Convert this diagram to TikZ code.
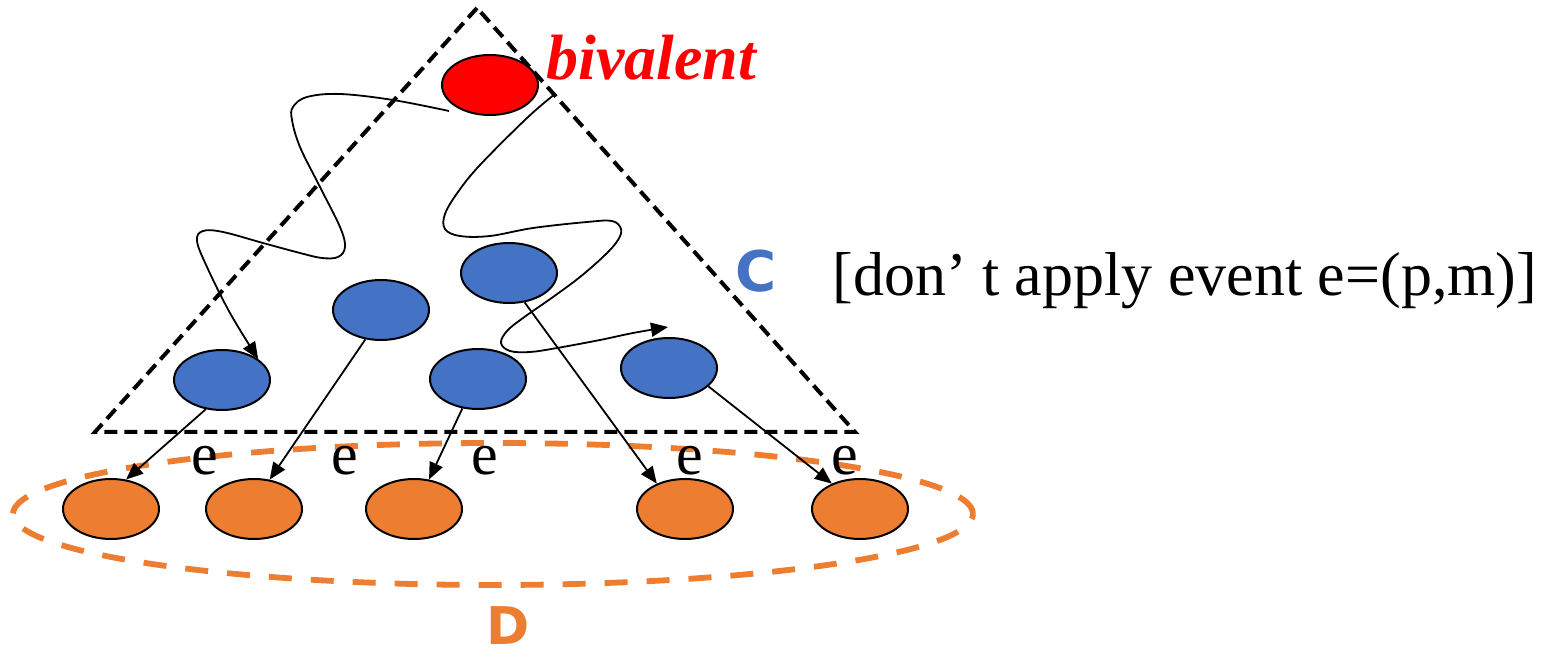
\documentclass[tikz,border=0pt]{standalone}
\usepackage{fontspec}
\setmainfont{Liberation Serif}
\newfontfamily\labelsans{DejaVu Sans}
\usetikzlibrary{shapes.geometric,arrows.meta}
\definecolor{stateblue}{HTML}{4472C4}
\definecolor{stateorange}{HTML}{ED7D31}
\definecolor{statered}{HTML}{FF0000}

\begin{document}
\begin{tikzpicture}[x=0.5pt,y=-0.5pt,
  state/.style={ellipse, draw=black, line width=1pt, minimum width=48pt,
    minimum height=30pt, inner sep=0pt},
  bivstate/.style={state, fill=statered},
  midstate/.style={state, fill=stateblue},
  endstate/.style={state, fill=stateorange},
  edge/.style={line width=0.9pt, -{Triangle[length=8.5pt,width=7pt]}},
  wiggle/.style={line width=0.9pt, -{Triangle[length=8.5pt,width=7pt]}},
  regionC/.style={line width=2pt, dash pattern=on 6.5pt off 3.5pt},
  regionD/.style={draw=stateorange, line width=2.9pt, dash pattern=on 11.5pt off 9.5pt},
  elabel/.style={inner sep=0pt, font=\fontsize{30pt}{35pt}\selectfont},
  setname/.style={inner sep=0pt, font=\labelsans\bfseries\fontsize{28pt}{32pt}\selectfont}
]
\useasboundingbox (0,0) rectangle (1564,657);

% region C: the dashed triangle
\draw[regionC] (477,8) -- (95,432) -- (855,432) -- cycle;

% region D: the dashed orange ellipse
\draw[regionD] (493,514) ellipse [x radius=240pt, y radius=35.5pt];

% states
\node[bivstate] (bv) at (490,85) {};
\node[midstate] (b1) at (222,380) {};
\node[midstate] (b2) at (381,310) {};
\node[midstate] (b3) at (509,273) {};
\node[midstate] (b4) at (478,379) {};
\node[midstate] (b5) at (669,368) {};
\node[endstate] (o1) at (111,509) {};
\node[endstate] (o2) at (254,509) {};
\node[endstate] (o3) at (414,509) {};
\node[endstate] (o4) at (685,509) {};
\node[endstate] (o5) at (860,509) {};

% free ends of the wandering runs
\coordinate (w1) at (449,111);
\coordinate (w2) at (555,94);
\coordinate (w2end) at (668,327);

% wandering run from the bivalent state down to the left
\draw[wiggle] plot[smooth, tension=0.6] coordinates {
  (w1) (393,100) (340,94) (307,97) (293,107) (292,120) (300,147)
  (320,187) (340,227) (345,247) (338,257) (322,258) (300,253)
  (263,243) (223,232) (203,231) (197,241) (207,267) (230,313) (b1.30)};

% wandering run from the bivalent state down to the right
\draw[wiggle] plot[smooth, tension=0.6] coordinates {
  (w2) (527,118) (480,165) (458,192) (445,214) (445,229) (460,236)
  (490,236) (533,228) (587,222) (612,221) (621,229) (618,240)
  (605,255) (580,277) (553,297) (523,318) (507,331) (501,343)
  (510,351) (530,352) (557,348) (600,340) (633,333) (w2end)};

% events e leading out of C
\draw[edge] (b1.241) -- (o1.63);
\draw[edge] (b2.242) -- (o2.62);
\draw[edge] (b4.242) -- (o3.63);
\draw[edge] (b3.298) -- (o4.138);
\draw[edge] (b5.335) -- (o5.138);

% event labels
\node[elabel, anchor=base] (e1) at (205,475) {e};
\node[elabel, anchor=base] (e2) at (345,475) {e};
\node[elabel, anchor=base] (e3) at (485,475) {e};
\node[elabel, anchor=base] (e4) at (690,475) {e};
\node[elabel, anchor=base] (e5) at (845,475) {e};

% captions
\node[anchor=base west, inner sep=0pt, text=statered,
  font=\bfseries\itshape\fontsize{32pt}{38pt}\selectfont] (biv) at (546,80) {bivalent};
\node[setname, text=stateblue] (cname) at (756,271) {C};
\node[setname, text=stateorange, font=\labelsans\bfseries\fontsize{26pt}{30pt}\selectfont] (dname) at (508,626) {D};
\node[anchor=base west, inner sep=0pt, font=\fontsize{31pt}{37pt}\selectfont] (rule) at (832,296)
  {[don’ t apply event e=(p,m)]};
\end{tikzpicture}
\end{document}
